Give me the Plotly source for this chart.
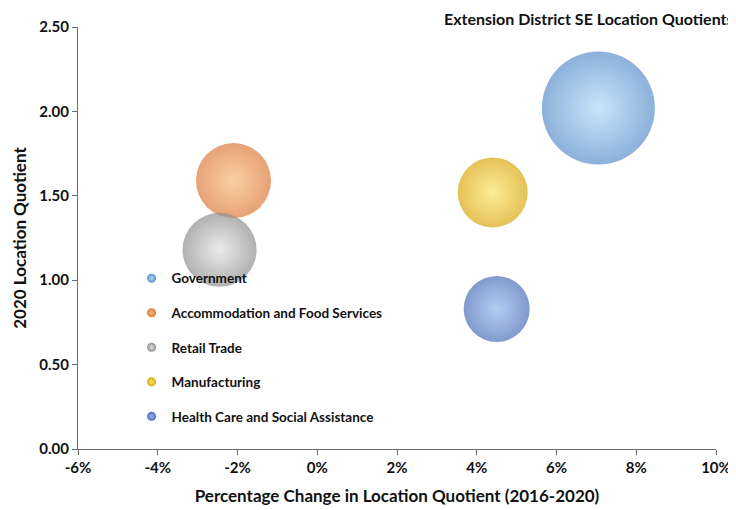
import plotly.graph_objects as go

# Bubble chart data
industries = ['Government', 'Accommodation and Food Services', 'Retail Trade',
              'Manufacturing', 'Health Care and Social Assistance']
pct_change = [7.05, -2.1, -2.45, 4.4, 4.5]        # % change in LQ 2016-2020
lq_2020 = [2.02, 1.59, 1.18, 1.52, 0.83]          # 2020 location quotient
bubble_size = [12770, 5630, 5480, 4900, 4360]     # relative bubble area

x_ticks = [-6, -4, -2, 0, 2, 4, 6, 8, 10]
x_ticklabels = ['-6%', '-4%', '-2%', '0%', '2%', '4%', '6%', '8%', '10%']

colors = ['#5b8fca', '#dc7a3a', '#8f8f8f', '#d9a810', '#4a6fb8']
centers = ['#b0daf8', '#f8ba7e', '#e2e2e2', '#fce468', '#95b6ec']

font_main = 'Lato, Open Sans, sans-serif'
axis_col = '#6b6b6b'
txt_col = '#111111'

fig = go.Figure()
sizeref = 2 * max(bubble_size) / (113 ** 2)
for i in range(len(industries)):
    fig.add_trace(go.Scatter(
        x=[pct_change[i]], y=[lq_2020[i]], mode='markers', name=industries[i],
        showlegend=False,
        marker=dict(size=[bubble_size[i]], sizemode='area', sizeref=sizeref,
                    color=colors[i], line=dict(width=0),
                    gradient=dict(type='radial', color=centers[i]))))
    # small legend-only entry so the legend dot stays small like the original
    fig.add_trace(go.Scatter(
        x=[None], y=[None], mode='markers', name=industries[i], legendgroup=industries[i],
        marker=dict(size=9, color=colors[i], line=dict(width=0),
                    gradient=dict(type='radial', color=centers[i]))))

# page body has an 8px margin, so the figure is a bit smaller than the window
fig.update_layout(
    width=728, height=502, paper_bgcolor='white', plot_bgcolor='white',
    margin=dict(l=70, r=20, t=19, b=61),
    font=dict(family=font_main, color=txt_col),
    showlegend=True,
    legend=dict(x=0.084, y=0.441, xanchor='left', yanchor='top', bgcolor='rgba(0,0,0,0)',
                font=dict(size=13.5, color=txt_col, weight='bold'),
                tracegroupgap=14),
    annotations=[dict(text='<b>Extension District SE Location Quotients</b>', xref='paper', yref='paper',
                      x=1.031, y=1.02, xanchor='right', yanchor='middle', showarrow=False,
                      font=dict(size=16, color=txt_col))])

fig.update_xaxes(range=[-6, 10], tickvals=x_ticks, ticktext=x_ticklabels, showgrid=False, zeroline=False,
                 showline=True, linecolor=axis_col, linewidth=1, ticks='outside', ticklen=5,
                 tickcolor=axis_col, tickfont=dict(size=15, weight='bold', color=txt_col),
                 automargin=False,
                 title=dict(text='<b>Percentage Change in Location Quotient (2016-2020)</b>',
                            font=dict(size=17, color=txt_col), standoff=15))
fig.update_yaxes(range=[0, 2.5], dtick=0.5, tickformat='.2f', showgrid=False, zeroline=False,
                 showline=True, linecolor=axis_col, linewidth=1, ticks='outside', ticklen=5,
                 tickcolor=axis_col, tickfont=dict(size=15, weight='bold', color=txt_col),
                 automargin=False,
                 title=dict(text='<b>2020 Location Quotient</b>',
                            font=dict(size=17, color=txt_col), standoff=8))

fig.write_html('out.html')
